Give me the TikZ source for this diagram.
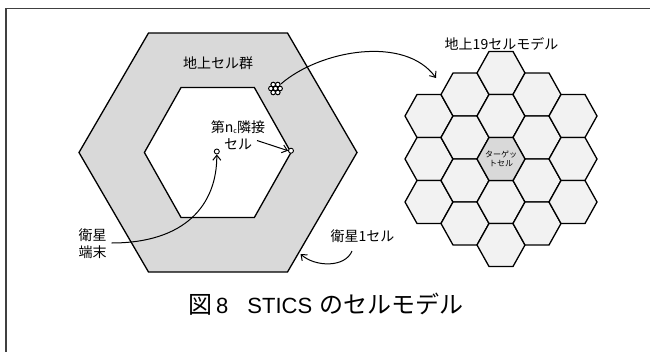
\documentclass[tikz,border=0pt]{standalone}
\usepackage{fontspec}
\setmainfont{Noto Sans CJK JP}
\newfontfamily\latinfont{Liberation Sans}
\usetikzlibrary{arrows.meta}
\definecolor{ringgray}{RGB}{217,217,217}
\definecolor{cellgray}{RGB}{242,242,242}
\definecolor{targetgray}{RGB}{217,217,217}
\newcommand{\hexpath}[4]{(#1-#3,#2) -- (#1-#3/2,#2-#4) -- (#1+#3/2,#2-#4) -- (#1+#3,#2) -- (#1+#3/2,#2+#4) -- (#1-#3/2,#2+#4) -- cycle}
\begin{document}
\begin{tikzpicture}[x=1pt,y=-1pt,
  hexline/.style={line width=1.3pt, line join=miter},
  lbl/.style={font=\fontsize{14}{16.5}\selectfont, inner sep=0pt, align=center},
  arr/.style={line width=1pt, -{Straight Barb[length=5pt,width=8pt,line width=1pt]}},
  dot/.style={circle, draw, line width=0.9pt, fill=white, inner sep=0pt, minimum size=5pt},
]
\useasboundingbox (0,0) rectangle (650,351);
\fill[white] (0,0) rectangle (650,351);
\draw[line width=1.2pt, black!75] (6,352) -- (6,8.5) -- (651,8.5);

% ring of ground cells
\draw[hexline, fill=ringgray, even odd rule]
  \hexpath{218}{152.5}{139}{119.5}
  \hexpath{217.7}{152.5}{73.3}{65};

\node[lbl] (gcells) at (218,63) {地上セル群};

% flower icon (cluster of cells)
\foreach \a in {0,60,...,300}{
  \draw[line width=1pt, fill=white] (275.5,88.5) ++(\a:4.6pt) circle (2.3pt);
}
\draw[line width=1pt, fill=white] (275.5,88.5) circle (2.3pt);
\node[circle, inner sep=0pt, minimum size=14pt] (flower) at (275.5,88.5) {};

% 19-cell model
\foreach \cx/\cy in {
  429/116, 429/159, 429/202,
  465/94.5, 465/137.5, 465/180.5, 465/223.5,
  501/73, 501/116, 501/202, 501/245,
  537/94.5, 537/137.5, 537/180.5, 537/223.5,
  573/116, 573/159, 573/202}{
  \draw[hexline, fill=cellgray] \hexpath{\cx}{\cy}{24}{21.5};
}
\draw[hexline, fill=targetgray] \hexpath{501}{159}{24}{21.5};
\node[font=\fontsize{8}{9.5}\selectfont, inner sep=0pt, align=center] (target) at (501,159) {ターゲッ\\トセル};
\node[lbl] (m19) at (501.5,44) {地上19セルモデル};

% arrow flower -> model
\coordinate (m19tip) at (436,78);
\draw[arr] (flower.40) .. controls (320,50) and (405,35) .. (m19tip);

% n_c-th neighbour cell
\node[lbl] (ncell) at (238,135) {第n{\fontsize{7}{8}\selectfont\raisebox{-0.25ex}{c}}隣接\\セル};
\node[dot] (ncdot) at (291,150.7) {};
\coordinate (ncstart) at (257,140.5);
\draw[arr] (ncstart) -- (ncdot.west);

% satellite terminal
\node[dot] (term) at (216.8,151.5) {};
\node[lbl] (termlbl) at (92.5,243.5) {衛星\\端末};
\coordinate (termstart) at (111.5,243);
\draw[arr] (termstart) .. controls (185,243) and (217,205) .. (term.south);

% satellite 1 cell
\node[lbl] (sat1) at (362.5,236.5) {衛星1セル};
\coordinate (sat1start) at (352,251);
\coordinate (sat1tip) at (300.5,254);
\draw[arr] (sat1start) .. controls (345,268) and (315,267) .. (sat1tip);

% caption
\node[anchor=west, inner sep=0pt, font=\fontsize{24}{28}\selectfont] (caption) at (188,304)
  {図\hspace{4pt}{\latinfont\fontsize{22}{26}\selectfont 8\hspace{19pt}STICS}\hspace{7pt}のセルモデル};
\end{tikzpicture}
\end{document}
